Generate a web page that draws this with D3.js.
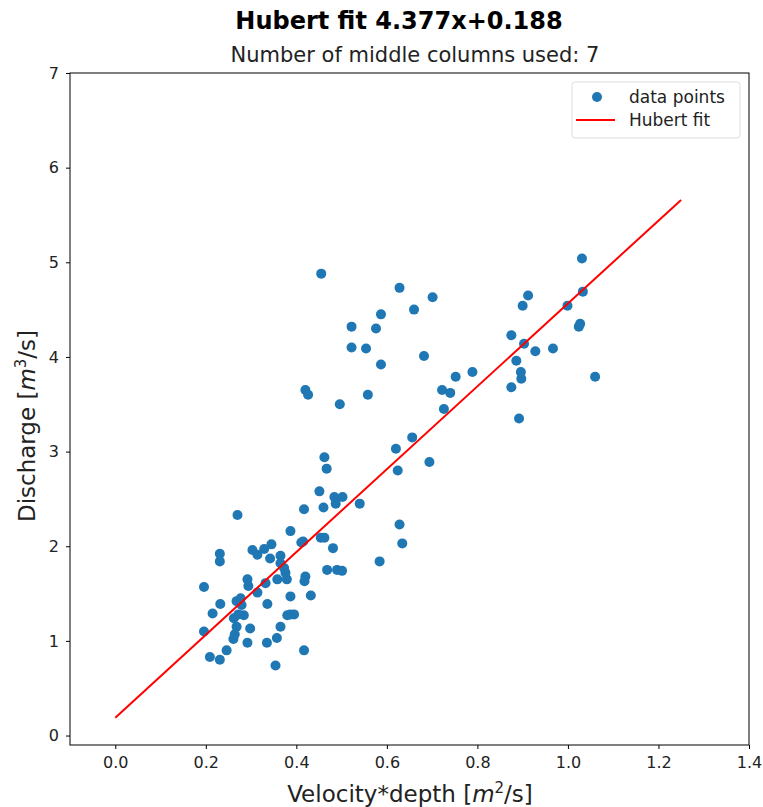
<!DOCTYPE html>
<html>
<head>
<meta charset="utf-8">
<script src="https://cdn.jsdelivr.net/npm/d3@7"></script>
<style>
  body { margin: 0; background: #fff; }
  text { font-family: "DejaVu Sans", sans-serif; fill: #222; }
</style>
</head>
<body>
<div id="chart"></div>
<script>
// velocity*depth [m2/s]
var velDepth = [
  0.455,0.628,0.701,0.660,0.587,0.522,0.576,0.522,0.554,0.682,0.587,0.420,0.426,0.558,0.496,
  0.752,0.789,0.722,0.740,0.726,0.656,0.620,0.624,0.694,0.462,0.467,0.451,0.484,0.502,
  0.912,0.900,0.875,0.903,0.928,0.967,0.886,0.896,0.897,0.875,0.892,
  1.031,1.033,0.999,1.027,1.024,1.060,
  0.487,0.417,0.460,0.540,0.628,0.634,0.584,0.415,0.454,0.462,0.481,0.468,0.490,0.501,
  0.420,0.418,0.432,0.417,
  0.270,0.387,0.411,0.303,0.314,0.329,0.345,0.342,0.365,0.365,0.231,0.231,0.196,0.292,
  0.294,0.314,0.332,0.376,0.373,0.379,0.358,0.387,0.336,0.268,0.277,0.279,0.232,0.215,
  0.262,0.284,0.272,0.268,0.298,0.264,0.261,0.387,0.395,0.380,0.365,0.357,0.335,0.292,
  0.196,0.246,0.209,0.231,0.354
];
// discharge [m3/s]
var discharge = [
  4.88,4.73,4.63,4.50,4.45,4.32,4.30,4.10,4.09,4.01,3.92,3.65,3.60,3.60,3.50,
  3.79,3.84,3.65,3.62,3.45,3.15,3.03,2.80,2.89,2.94,2.82,2.58,2.52,2.52,
  4.65,4.54,4.23,4.14,4.06,4.09,3.96,3.84,3.77,3.68,3.35,
  5.04,4.69,4.54,4.35,4.32,3.79,
  2.45,2.39,2.41,2.45,2.23,2.03,1.84,2.05,2.09,2.09,1.98,1.75,1.75,1.74,
  1.68,1.63,1.48,0.90,
  2.33,2.16,2.04,1.96,1.91,1.97,2.02,1.87,1.90,1.82,1.92,1.84,1.57,1.65,
  1.58,1.51,1.61,1.72,1.77,1.65,1.65,1.47,1.39,1.42,1.45,1.38,1.39,1.29,
  1.24,1.27,1.28,1.15,1.13,1.07,1.02,1.28,1.28,1.27,1.15,1.03,0.98,0.98,
  1.10,0.90,0.83,0.80,0.74
];

var fitSlope = 4.377, fitIntercept = 0.188;
var fitRange = [0, 1.25];

var xTicks = [0.0, 0.2, 0.4, 0.6, 0.8, 1.0, 1.2, 1.4];
var yTicks = [0, 1, 2, 3, 4, 5, 6, 7];

var W = 763, H = 807;
var margin = {top: 73, left: 70, right: 14, bottom: 62};
var width = W - margin.left - margin.right, height = H - margin.top - margin.bottom;

var svg = d3.select("#chart").append("svg")
    .attr("width", W)
    .attr("height", H);

var x = d3.scaleLinear().domain([-0.1, 1.4]).range([0, width]);
var y = d3.scaleLinear().domain([-0.1, 7]).range([height, 0]);

var g = svg.append("g")
    .attr("transform", "translate(" + margin.left + "," + margin.top + ")");

// titles
svg.append("text")
    .attr("x", 399)
    .attr("y", 29)
    .attr("text-anchor", "middle")
    .style("font-size", "24px")
    .style("font-weight", "bold")
    .style("fill", "#000")
    .text("Hubert fit " + fitSlope + "x+" + fitIntercept);

svg.append("text")
    .attr("x", 415)
    .attr("y", 62)
    .attr("text-anchor", "middle")
    .style("font-size", "21px")
    .text("Number of middle columns used: 7");

// axes
var xAxis = d3.axisBottom(x).tickValues(xTicks).tickFormat(d3.format(".1f")).tickSize(4).tickPadding(8);
var yAxis = d3.axisLeft(y).tickValues(yTicks).tickFormat(d3.format("d")).tickSize(4).tickPadding(7);

g.append("g")
    .attr("transform", "translate(0," + height + ")")
    .call(xAxis)
    .call(function(s){ s.select(".domain").remove(); })
    .selectAll("text").style("font-size", "16px").style("fill", "#222");

g.append("g")
    .call(yAxis)
    .call(function(s){ s.select(".domain").remove(); })
    .selectAll("text").style("font-size", "16px").style("fill", "#222");

// points
var pts = velDepth.map(function(v, i){ return {x: v, y: discharge[i]}; });

g.selectAll("circle.pt")
    .data(pts)
  .enter().append("circle")
    .attr("class", "pt")
    .attr("cx", function(d){ return x(d.x); })
    .attr("cy", function(d){ return y(d.y); })
    .attr("r", 5)
    .style("fill", "#1f77b4");

// fit line
var line = d3.line()
    .x(function(d){ return x(d); })
    .y(function(d){ return y(fitSlope * d + fitIntercept); });

g.append("path")
    .datum(fitRange)
    .attr("d", line)
    .style("fill", "none")
    .style("stroke", "#ff0000")
    .style("stroke-width", 2);

// frame
g.append("rect")
    .attr("width", width)
    .attr("height", height)
    .style("fill", "none")
    .style("stroke", "#000")
    .style("stroke-width", 1);

// axis labels
svg.append("text")
    .attr("x", 410)
    .attr("y", 802)
    .attr("text-anchor", "middle")
    .style("font-size", "23px")
    .call(function(t){
      t.append("tspan").text("Velocity*depth [");
      t.append("tspan").style("font-style", "italic").text("m");
      t.append("tspan").attr("baseline-shift", "super").style("font-size", "15px").text("2");
      t.append("tspan").text("/s]");
    });

svg.append("text")
    .attr("transform", "translate(35," + 426 + ") rotate(-90)")
    .attr("text-anchor", "middle")
    .style("font-size", "23px")
    .call(function(t){
      t.append("tspan").text("Discharge [");
      t.append("tspan").style("font-style", "italic").text("m");
      t.append("tspan").attr("baseline-shift", "super").style("font-size", "15px").text("3");
      t.append("tspan").text("/s]");
    });

// legend
var lg = svg.append("g").attr("transform", "translate(572,82)");
lg.append("rect")
    .attr("width", 168)
    .attr("height", 56)
    .attr("rx", 3)
    .style("fill", "#fff")
    .style("fill-opacity", 0.8)
    .style("stroke", "#ddd");
lg.append("circle")
    .attr("cx", 25).attr("cy", 15).attr("r", 5)
    .style("fill", "#1f77b4");
lg.append("text")
    .attr("x", 57).attr("y", 21)
    .style("font-size", "17px")
    .text("data points");
lg.append("line")
    .attr("x1", 4).attr("x2", 43).attr("y1", 38).attr("y2", 38)
    .style("stroke", "#ff0000").style("stroke-width", 2);
lg.append("text")
    .attr("x", 57).attr("y", 44)
    .style("font-size", "17px")
    .text("Hubert fit");
</script>
</body>
</html>
